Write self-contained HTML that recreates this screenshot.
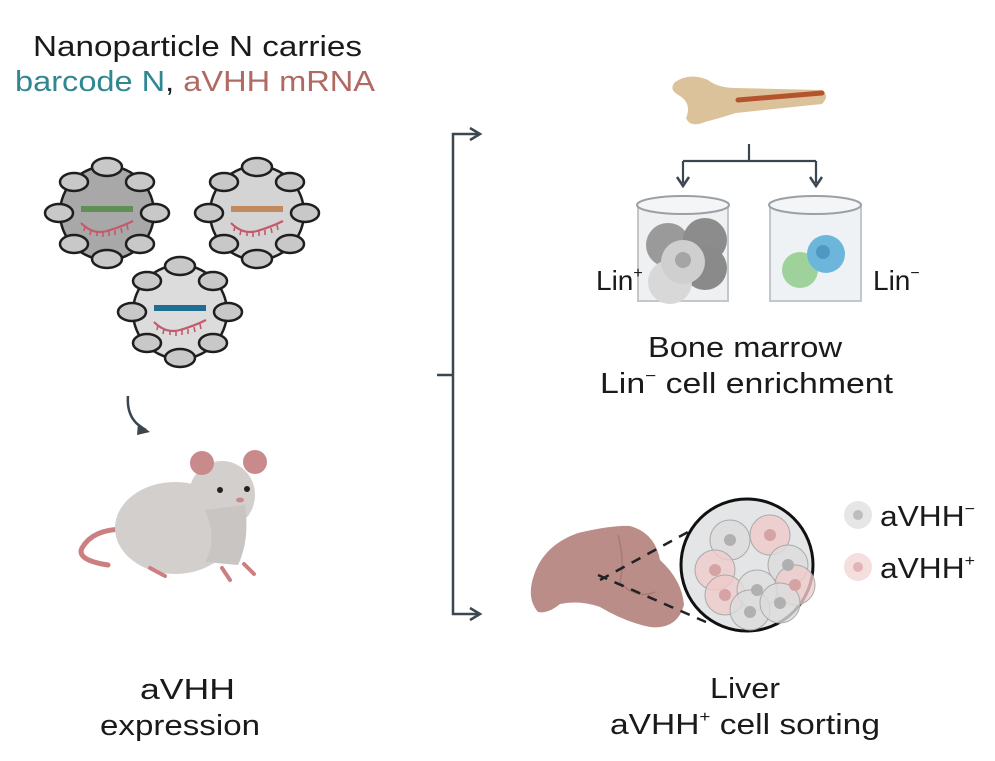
<!DOCTYPE html>
<html><head><meta charset="utf-8"><style>
html,body{margin:0;padding:0;background:#fff;}
svg{display:block}
text{font-family:"Liberation Sans","DejaVu Sans",sans-serif;fill:#1a1a1a}
</style></head><body>
<svg width="995" height="761" viewBox="0 0 995 761" xmlns="http://www.w3.org/2000/svg">
<defs>
<g id="lumps" stroke="#1e1e1e" stroke-width="2.5" fill="#c8c8c8">
 <ellipse cx="0" cy="-46" rx="15" ry="9"/>
 <ellipse cx="33" cy="-31" rx="14" ry="9"/>
 <ellipse cx="48" cy="0" rx="14" ry="9"/>
 <ellipse cx="33" cy="31" rx="14" ry="9"/>
 <ellipse cx="0" cy="46" rx="15" ry="9"/>
 <ellipse cx="-33" cy="31" rx="14" ry="9"/>
 <ellipse cx="-48" cy="0" rx="14" ry="9"/>
 <ellipse cx="-33" cy="-31" rx="14" ry="9"/>
</g>
<g id="rna" fill="none" stroke="#c25a6e" stroke-width="2.2">
 <path d="M-26 10 Q-14 22 0 18 Q14 14 26 8"/>
 <path d="M-22 13 l-1 5 M-16 17 l-1 5 M-10 18 l0 5 M-4 19 l0 5 M2 18 l0 5 M8 17 l0 5 M14 15 l1 5 M20 12 l1 5" stroke-width="1.6"/>
</g>
</defs>

<text x="33" y="56" font-size="28.5" textLength="329" lengthAdjust="spacingAndGlyphs">Nanoparticle N carries</text>
<text x="15" y="91" font-size="28.5" textLength="360" lengthAdjust="spacingAndGlyphs"><tspan style="fill:#2f8791">barcode N</tspan>, <tspan style="fill:#b06a62">aVHH mRNA</tspan></text>

<g transform="translate(107,213)">
 <circle r="47" fill="#a8a8a8" stroke="#1e1e1e" stroke-width="2.5"/><use href="#lumps"/>
 <rect x="-26" y="-7" width="52" height="6" fill="#5f8f55"/><use href="#rna"/>
</g>
<g transform="translate(257,213)">
 <circle r="47" fill="#d4d4d4" stroke="#1e1e1e" stroke-width="2.5"/><use href="#lumps"/>
 <rect x="-26" y="-7" width="52" height="6" fill="#c08a5e"/><use href="#rna"/>
</g>
<g transform="translate(180,312)">
 <circle r="47" fill="#dcdcdc" stroke="#1e1e1e" stroke-width="2.5"/><use href="#lumps"/>
 <rect x="-26" y="-7" width="52" height="6" fill="#1f6e94"/><use href="#rna"/>
</g>

<path d="M128 396 Q126 420 146 430" fill="none" stroke="#3c4650" stroke-width="2.5"/>
<path d="M138 423 L150 432 L137 435z" fill="#3c4650"/>

<g>
 <path d="M138 530 Q95 525 82 548 Q76 560 108 565" fill="none" stroke="#cc7f80" stroke-width="5" stroke-linecap="round"/>
 <ellipse cx="175" cy="528" rx="60" ry="46" fill="#d3cfcc"/>
 <ellipse cx="222" cy="495" rx="33" ry="34" fill="#d3cfcc"/>
 <path d="M205 510 Q218 540 205 562 L238 565 Q250 540 245 505z" fill="#c9c5c2"/>
 <circle cx="202" cy="463" r="12" fill="#c98a8c"/><circle cx="255" cy="462" r="12" fill="#c98a8c"/>
 <circle cx="220" cy="490" r="3" fill="#222"/><circle cx="247" cy="489" r="3" fill="#222"/>
 <ellipse cx="240" cy="500" rx="4" ry="2.5" fill="#c98a8c"/>
 <path d="M150 568 l15 8 M222 568 l8 12 M244 564 l10 10" stroke="#cc7f80" stroke-width="4" stroke-linecap="round"/>
</g>
<text x="140" y="699" font-size="28.5" textLength="95" lengthAdjust="spacingAndGlyphs">aVHH</text>
<text x="100" y="735" font-size="28.5" textLength="160" lengthAdjust="spacingAndGlyphs">expression</text>

<path d="M480 134 L453 134 L453 614 L480 614" fill="none" stroke="#3c4650" stroke-width="2.5"/>
<path d="M470 128 L480 134 L470 140" fill="none" stroke="#3c4650" stroke-width="2.5"/>
<path d="M470 608 L480 614 L470 620" fill="none" stroke="#3c4650" stroke-width="2.5"/>
<line x1="437" y1="375" x2="453" y2="375" stroke="#3c4650" stroke-width="2.5"/>

<path d="M675 82 Q690 72 708 80 Q718 88 736 88 L822 90 Q830 96 822 104 L736 113 Q720 118 705 122 Q690 128 686 118 Q692 104 680 96 Q668 90 675 82z" fill="#dcc29a"/>
<path d="M738 100 L822 93" stroke="#b5532f" stroke-width="5" stroke-linecap="round"/>
<path d="M749 144 L749 161 M683 161 L816 161 M683 161 L683 183 M816 161 L816 183" fill="none" stroke="#3c4650" stroke-width="2.2"/>
<path d="M677 177 L683 186 L689 177 M810 177 L816 186 L822 177" fill="none" stroke="#3c4650" stroke-width="2.5"/>

<g>
 <rect x="638" y="205" width="90" height="96" fill="#eef0f2" stroke="#c2c7cc" stroke-width="2"/>
 <ellipse cx="683" cy="205" rx="46" ry="9" fill="#f4f5f6" stroke="#9aa0a6" stroke-width="2"/>
 <circle cx="668" cy="245" r="22" fill="#9a9a9a"/><circle cx="705" cy="240" r="22" fill="#8c8c8c"/>
 <circle cx="705" cy="268" r="22" fill="#8a8a8a"/><circle cx="670" cy="282" r="22" fill="#d8d8d8"/>
 <circle cx="683" cy="262" r="22" fill="#cfcfcf"/><circle cx="683" cy="260" r="8" fill="#a5a5a5"/>
</g>
<g>
 <rect x="770" y="205" width="91" height="96" fill="#eef2f4" stroke="#c2c7cc" stroke-width="2"/>
 <ellipse cx="815" cy="205" rx="46" ry="9" fill="#f4f5f6" stroke="#9aa0a6" stroke-width="2"/>
 <circle cx="800" cy="270" r="18" fill="#9fd29a"/>
 <circle cx="826" cy="254" r="19" fill="#6cb6dc"/><circle cx="823" cy="252" r="7" fill="#4f98c4"/>
</g>
<text x="596" y="290" font-size="28">Lin<tspan font-size="16" dy="-12">+</tspan></text>
<text x="873" y="290" font-size="28">Lin<tspan font-size="16" dy="-12">−</tspan></text>
<text x="648" y="357" font-size="28.5" textLength="194" lengthAdjust="spacingAndGlyphs">Bone marrow</text>
<text x="600" y="393" font-size="28.5" textLength="293" lengthAdjust="spacingAndGlyphs">Lin<tspan font-size="16" dy="-12">−</tspan><tspan dy="12"> cell enrichment</tspan></text>

<path d="M538 612 Q526 598 534 575 Q544 545 578 533 Q612 525 630 526 Q655 533 660 560 Q682 580 684 605 Q677 630 650 627 Q625 622 600 607 Q580 600 560 604 Q548 614 538 612z" fill="#bb8d89"/>
<path d="M618 535 Q625 560 620 582 Q635 600 655 592" fill="none" stroke="#a77a76" stroke-width="1.5"/>
<path d="M600 580 L710 520 M598 575 L706 622" stroke="#222" stroke-width="2.5" stroke-dasharray="10 8"/>
<circle cx="747" cy="565" r="66" fill="#e4e5e6" stroke="#111" stroke-width="3"/>
<g stroke="#aaa" stroke-width="1">
 <circle cx="730" cy="540" r="20" fill="#dcdcdc" fill-opacity="0.8"/>
 <circle cx="770" cy="535" r="20" fill="#efc9c9" fill-opacity="0.8"/>
 <circle cx="715" cy="570" r="20" fill="#efcaca" fill-opacity="0.8"/>
 <circle cx="788" cy="565" r="20" fill="#dcdcdc" fill-opacity="0.8"/>
 <circle cx="795" cy="585" r="20" fill="#efcaca" fill-opacity="0.8"/>
 <circle cx="725" cy="595" r="20" fill="#efcaca" fill-opacity="0.8"/>
 <circle cx="757" cy="590" r="20" fill="#dedede" fill-opacity="0.8"/>
 <circle cx="750" cy="610" r="20" fill="#dcdcdc" fill-opacity="0.8"/>
 <circle cx="780" cy="603" r="20" fill="#dcdcdc" fill-opacity="0.8"/>
</g>
<g fill="#b0b0b0"><circle cx="730" cy="540" r="6"/><circle cx="788" cy="565" r="6"/><circle cx="757" cy="590" r="6"/><circle cx="750" cy="612" r="6"/><circle cx="780" cy="603" r="6"/></g>
<g fill="#d6a3a5"><circle cx="770" cy="535" r="6"/><circle cx="715" cy="570" r="6"/><circle cx="795" cy="585" r="6"/><circle cx="725" cy="595" r="6"/></g>

<circle cx="858" cy="515" r="14" fill="#e6e6e6"/><circle cx="858" cy="515" r="5" fill="#bdbdbd"/>
<circle cx="858" cy="567" r="14" fill="#f5dede"/><circle cx="858" cy="567" r="5" fill="#e3b4b6"/>
<text x="880" y="526" font-size="28.5" textLength="95" lengthAdjust="spacingAndGlyphs">aVHH<tspan font-size="16" dy="-12">−</tspan></text>
<text x="880" y="578" font-size="28.5" textLength="95" lengthAdjust="spacingAndGlyphs">aVHH<tspan font-size="16" dy="-12">+</tspan></text>

<text x="710" y="698" font-size="28.5" textLength="70" lengthAdjust="spacingAndGlyphs">Liver</text>
<text x="610" y="734" font-size="28.5" textLength="270" lengthAdjust="spacingAndGlyphs">aVHH<tspan font-size="16" dy="-12">+</tspan><tspan dy="12"> cell sorting</tspan></text>
</svg>
</body></html>
